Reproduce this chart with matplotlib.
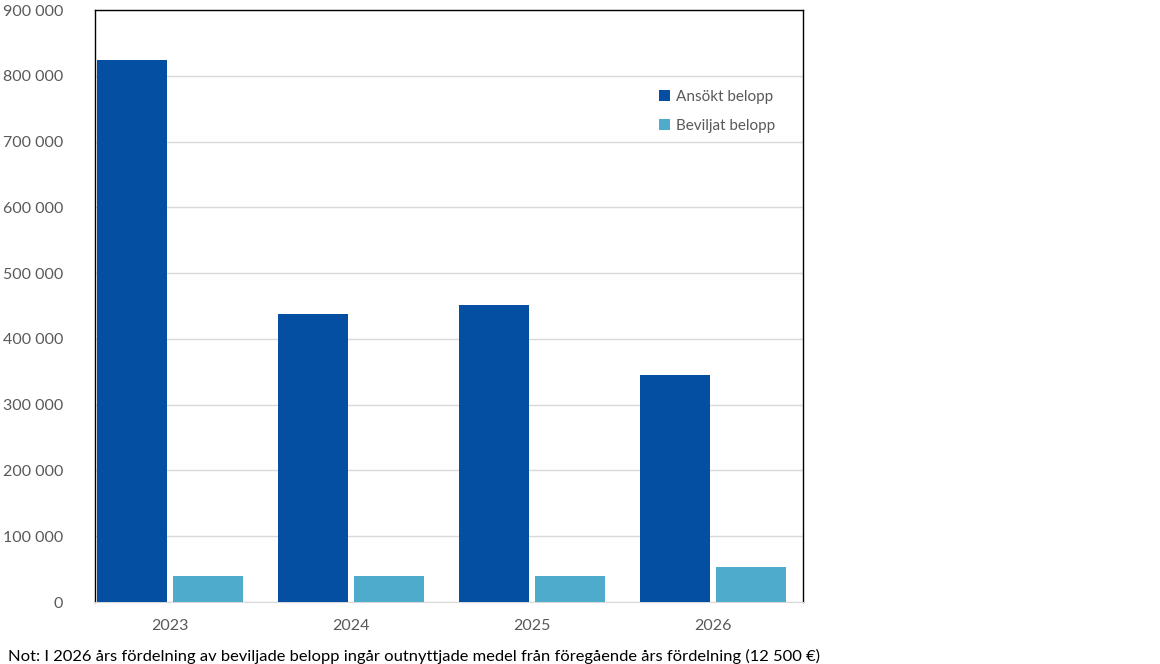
import numpy as np
import matplotlib.pyplot as plt
from matplotlib.ticker import FuncFormatter

years = ["2023", "2024", "2025", "2026"]
ansokt = [824000, 438000, 451500, 345000]
beviljat = [39500, 39500, 39500, 52500]

dark = "#054FA3"
light = "#4EABCB"
grey_text = "#595959"

plt.rcParams["font.family"] = ["Lato", "DejaVu Sans"]

fig = plt.figure(figsize=(11.6, 6.64), dpi=100)
ax = fig.add_axes([95 / 1160, 1 - 602 / 664, 708 / 1160, 592 / 664])

x = np.arange(len(years))
w = 0.387
off = 0.21
ax.bar(x - off, ansokt, width=w, color=dark, label="Ansökt belopp", zorder=3)
ax.bar(x + off, beviljat, width=w, color=light, label="Beviljat belopp", zorder=3)

ax.set_ylim(0, 900000)
ax.set_xlim(-0.414, 3.497)
ax.set_yticks(np.arange(0, 900001, 100000))
ax.yaxis.set_major_formatter(FuncFormatter(lambda v, p: f"{int(v):,}".replace(",", " ")))
ax.set_xticks(x)
ax.set_xticklabels(years)
ax.tick_params(axis="both", length=0, labelsize=11.5, colors=grey_text)
ax.tick_params(axis="x", pad=12)
ax.tick_params(axis="y", pad=23)

ax.yaxis.grid(True, color="#D9D9D9", linewidth=1, zorder=0)
for s in ["left", "top", "right"]:
    ax.spines[s].set_color("black")
    ax.spines[s].set_linewidth(1)
ax.spines["bottom"].set_color("#D9D9D9")

ax.legend(loc="upper left", bbox_to_anchor=(0.777, 0.888), frameon=False,
          fontsize=11, handlelength=0.7, handleheight=0.7, handletextpad=0.4,
          labelspacing=0.95, labelcolor=grey_text)

fig.text(8 / 1160, 1 - 656 / 664, "Not: I 2026 års fördelning av beviljade belopp ingår outnyttjade medel från föregående års fördelning (12 500 €)",
         fontsize=11.85, color="black", va="center", ha="left")

fig.savefig("out.png", dpi=100)
